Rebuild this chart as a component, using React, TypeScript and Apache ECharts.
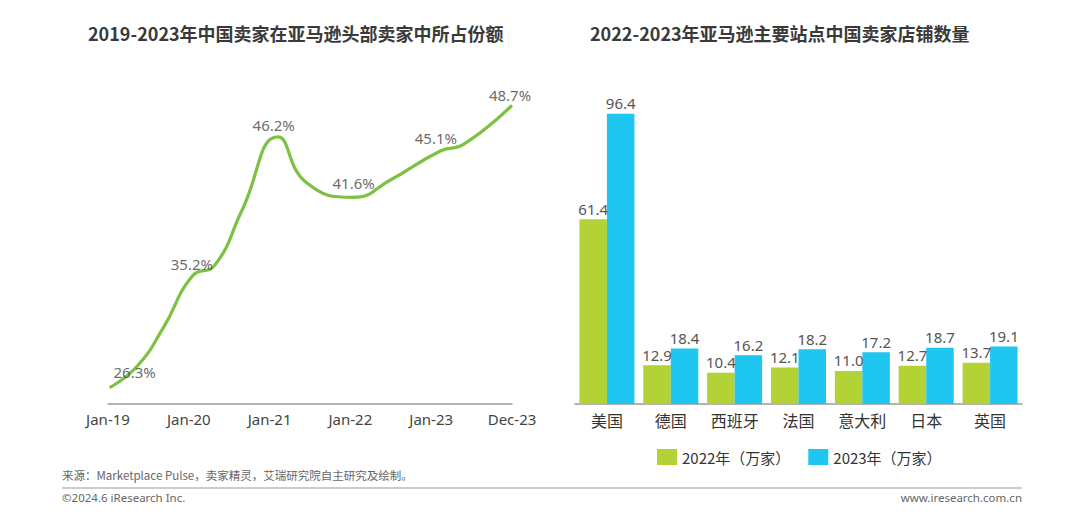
import React, { useEffect, useRef } from "react";
import * as echarts from "echarts";

// Left chart: share of Chinese sellers among Amazon top sellers
const shareAxisLabels = ["Jan-19", "Jan-20", "Jan-21", "Jan-22", "Jan-23", "Dec-23"];
const shareCurveX = [0.02, 0.36, 0.68, 1.05, 1.32, 1.66, 2.1, 2.45, 3.04, 3.5, 4.12, 4.4, 5.0];
const shareCurveY = [26.3, 28.0, 31.0, 35.2, 36.0, 40.4, 46.2, 42.6, 41.4, 42.8, 45.1, 45.6, 48.7];
const shareLabelX = [0.02, 1.05, 2.1, 3.04, 4.12, 5.0];
const shareLabelY = [26.3, 35.2, 46.2, 41.6, 45.1, 48.7];
const shareLabelOffsets = [[25, -8], [-1, -4], [-4, -4], [0, -4], [-5, -5], [-2, -3]];

// Right chart: Chinese seller stores on major Amazon sites
const sites = ["美国", "德国", "西班牙", "法国", "意大利", "日本", "英国"];
const stores2022 = [61.4, 12.9, 10.4, 12.1, 11.0, 12.7, 13.7];
const stores2023 = [96.4, 18.4, 16.2, 18.2, 17.2, 18.7, 19.1];
const seriesNames = ["2022年（万家）", "2023年（万家）"];

const FONT = "'Noto Sans', 'Noto Sans CJK SC', sans-serif";
const CJK = "'Noto Sans CJK SC', 'Noto Sans', sans-serif";

export default function App() {
  const ref = useRef<HTMLDivElement>(null);
  useEffect(() => {
    if (!ref.current) return;
    const chart = echarts.init(ref.current, undefined, { renderer: "svg" });
    const barLabel = {
      show: true,
      position: "top",
      distance: 3,
      color: "#555",
      fontSize: 15,
      fontFamily: FONT,
      formatter: (p: any) => Number(p.value).toFixed(1),
    };
    chart.setOption({
      animation: false,
      backgroundColor: "#fff",
      textStyle: { fontFamily: FONT },
      grid: [
        { left: 108, width: 404, top: 89, height: 315 },
        { left: 575, width: 447, top: 103, height: 301 },
      ],
      xAxis: [
        {
          gridIndex: 0,
          type: "value",
          min: 0,
          max: 5,
          interval: 1,
          axisLine: { show: true, lineStyle: { color: "#9a9a9a", width: 1.5 } },
          axisTick: { show: false },
          splitLine: { show: false },
          axisLabel: {
            color: "#444",
            fontSize: 15,
            margin: 7,
            fontFamily: FONT,
            formatter: (v: number) => shareAxisLabels[Math.round(v)] ?? "",
          },
        },
        {
          gridIndex: 1,
          type: "category",
          data: sites,
          axisLine: { show: true, lineStyle: { color: "#9a9a9a", width: 1.5 } },
          axisTick: { show: false },
          axisLabel: { color: "#333", fontSize: 16, margin: 8, fontFamily: CJK },
        },
      ],
      yAxis: [
        { gridIndex: 0, type: "value", min: 25, max: 50, show: false },
        { gridIndex: 1, type: "value", min: 0, max: 100, show: false },
      ],
      legend: {
        data: seriesNames,
        left: 652,
        top: 444,
        itemWidth: 20,
        itemHeight: 16,
        itemGap: 18,
        icon: "rect",
        textStyle: { color: "#333", fontSize: 15, fontFamily: CJK },
      },
      series: [
        {
          type: "line",
          xAxisIndex: 0,
          yAxisIndex: 0,
          data: shareCurveX.map((x, i) => [x, shareCurveY[i]]),
          smooth: 0.5,
          showSymbol: false,
          symbol: "none",
          lineStyle: { color: "#7cc142", width: 3.2 },
          z: 2,
        },
        {
          type: "scatter",
          xAxisIndex: 0,
          yAxisIndex: 0,
          symbolSize: 0,
          data: shareLabelX.map((x, i) => ({
            value: [x, shareLabelY[i]],
            label: { offset: shareLabelOffsets[i] },
          })),
          label: {
            show: true,
            position: "top",
            distance: 0,
            color: "#444",
            fontSize: 15,
            fontFamily: FONT,
            formatter: (p: any) => p.value[1].toFixed(1) + "%",
          },
          z: 3,
        },
        {
          name: seriesNames[0],
          type: "bar",
          xAxisIndex: 1,
          yAxisIndex: 1,
          data: stores2022,
          itemStyle: { color: "#b2d235" },
          barWidth: 27.5,
          barGap: "0%",
          label: barLabel,
        },
        {
          name: seriesNames[1],
          type: "bar",
          xAxisIndex: 1,
          yAxisIndex: 1,
          data: stores2023,
          itemStyle: { color: "#1fc6f0" },
          barWidth: 27.5,
          barGap: "0%",
          label: barLabel,
        },
      ],
      graphic: [
        {
          type: "text",
          left: 88,
          top: 24,
          style: {
            text: "2019-2023年中国卖家在亚马逊头部卖家中所占份额",
            fontSize: 18,
            fontWeight: "bold",
            fill: "#3a3a3a",
            fontFamily: CJK,
          },
        },
        {
          type: "text",
          left: 590,
          top: 24,
          style: {
            text: "2022-2023年亚马逊主要站点中国卖家店铺数量",
            fontSize: 18,
            fontWeight: "bold",
            fill: "#3a3a3a",
            fontFamily: CJK,
          },
        },
        {
          type: "text",
          left: 62,
          top: 469,
          style: {
            text: "来源：Marketplace Pulse，卖家精灵，艾瑞研究院自主研究及绘制。",
            fontSize: 11.5,
            fill: "#666",
            fontFamily: CJK,
          },
        },
        {
          type: "line",
          shape: { x1: 62, y1: 488, x2: 1022, y2: 488 },
          style: { stroke: "#999", lineWidth: 1 },
        },
        {
          type: "text",
          left: 62,
          top: 492,
          style: { text: "©2024.6 iResearch Inc.", fontSize: 11.5, fill: "#666", fontFamily: FONT },
        },
        {
          type: "text",
          right: 58,
          top: 492,
          style: { text: "www.iresearch.com.cn", fontSize: 11.5, fill: "#666", fontFamily: FONT },
        },
      ],
    });
    return () => chart.dispose();
  }, []);
  return (
    <div
      ref={ref}
      style={{ position: "fixed", left: 0, top: 0, width: 1080, height: 515, background: "#fff" }}
    />
  );
}
